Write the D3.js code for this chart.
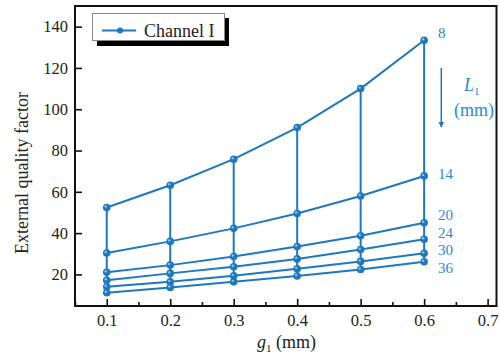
<!DOCTYPE html>
<html lang="en">
<head>
    <meta charset="UTF-8">
    <title>External quality factor vs g1</title>
    <style>
        body { margin: 0; background: #fff; }
        svg text { font-family: "Liberation Serif", "Times New Roman", serif; }
    </style>
    <script src="https://cdn.jsdelivr.net/npm/d3@7"></script>
</head>
<body>
<svg width="500" height="360"></svg>

<script>
    // g1 (mm) values along the x axis
    const gapValues = [0.1, 0.2, 0.3, 0.4, 0.5, 0.6];
    // one curve per L1 (mm)
    const lengthValues = [8, 14, 20, 24, 30, 36];
    const q_L8  = [52.4, 63.2, 75.8, 91.1, 110.0, 133.4];
    const q_L14 = [30.4, 36.0, 42.3, 49.5, 58.0, 67.7];
    const q_L20 = [21.0, 24.5, 28.7, 33.5, 38.7, 45.0];
    const q_L24 = [17.2, 20.5, 23.7, 27.5, 32.1, 37.0];
    const q_L30 = [14.0, 16.4, 19.3, 22.7, 26.3, 30.2];
    const q_L36 = [11.1, 13.7, 16.4, 19.2, 22.4, 26.1];
    const seriesValues = [q_L8, q_L14, q_L20, q_L24, q_L30, q_L36];

    const xTicks = [0.1, 0.2, 0.3, 0.4, 0.5, 0.6, 0.7];
    const xMinorTicks = [0.05, 0.15, 0.25, 0.35, 0.45, 0.55, 0.65];
    const yTicks = [20, 40, 60, 80, 100, 120, 140];

    const lineColor = "#1c79c0";
    const textColor = "#2b8bd0";

    let svg = d3.select("svg");
    const plotLeft = 75, plotRight = 496.5, plotTop = 6, plotBottom = 306;

    let x = d3.scaleLinear().domain([0.05, 0.714]).range([plotLeft, plotRight]);
    let y = d3.scaleLinear().domain([4.7, 150]).range([plotBottom, plotTop]);

    // axes, ticks inward
    svg.append("g").attr("transform", `translate(0,${plotBottom})`)
        .call(d3.axisBottom(x).tickValues(xTicks).tickSize(-7).tickPadding(8)
            .tickFormat(d3.format(".1f")));
    svg.append("g").attr("transform", `translate(0,${plotBottom})`)
        .call(d3.axisBottom(x).tickValues(xMinorTicks).tickSize(-4).tickFormat(""));
    svg.append("g").attr("transform", `translate(${plotLeft},0)`)
        .call(d3.axisLeft(y).tickValues(yTicks).tickSize(-7).tickPadding(7));

    svg.selectAll(".domain").remove();
    svg.selectAll(".tick line").attr("stroke", "#111").attr("stroke-width", 1.6);
    svg.selectAll(".tick text").attr("font-size", 16.5).attr("fill", "#222")
        .attr("font-family", "Liberation Serif, serif");

    // frame
    svg.append("rect").attr("x", plotLeft).attr("y", plotTop)
        .attr("width", plotRight - plotLeft).attr("height", plotBottom - plotTop)
        .attr("fill", "none").attr("stroke", "#111").attr("stroke-width", 2);

    // vertical connectors at each g1
    let plot = svg.append("g");
    plot.selectAll(".vline").data(gapValues).enter().append("line")
        .attr("x1", d => x(d)).attr("x2", d => x(d))
        .attr("y1", (d, i) => y(q_L8[i]))
        .attr("y2", (d, i) => y(q_L36[i]))
        .attr("stroke", lineColor).attr("stroke-width", 2);

    let line = d3.line().x((d, i) => x(gapValues[i])).y(d => y(d));
    plot.selectAll(".curve").data(seriesValues).enter().append("path")
        .attr("d", d => line(d)).attr("fill", "none")
        .attr("stroke", lineColor).attr("stroke-width", 2);

    seriesValues.forEach(function (s) {
        plot.selectAll(null).data(s).enter().append("circle")
            .attr("cx", (d, i) => x(gapValues[i])).attr("cy", d => y(d))
            .attr("r", 3.8).attr("fill", lineColor);
        plot.selectAll(null).data(s).enter().append("circle")
            .attr("cx", (d, i) => x(gapValues[i]) - 1).attr("cy", d => y(d) - 1)
            .attr("r", 1.2).attr("fill", "#8cc4ea");
    });

    // L1 labels at the right end
    const labelY = [32.3, 174, 215, 232.5, 250, 267.5];
    svg.selectAll(".lab").data(lengthValues).enter().append("text")
        .attr("x", 438).attr("y", (d, i) => labelY[i]).attr("dy", "0.35em")
        .attr("font-size", 15).attr("fill", textColor).text(d => d);

    // arrow
    svg.append("defs").append("marker").attr("id", "head")
        .attr("viewBox", "0 0 10 10").attr("refX", 9).attr("refY", 5)
        .attr("markerWidth", 6).attr("markerHeight", 8).attr("orient", "auto")
        .attr("markerUnits", "userSpaceOnUse")
        .append("path").attr("d", "M0,0 L10,5 L0,10 z").attr("fill", lineColor);
    svg.append("line").attr("x1", 441.3).attr("x2", 441.3).attr("y1", 68).attr("y2", 127)
        .attr("stroke", lineColor).attr("stroke-width", 1.5).attr("marker-end", "url(#head)");
    let lt = svg.append("text").attr("x", 464).attr("y", 91).attr("font-size", 18)
        .attr("fill", textColor);
    lt.append("tspan").attr("font-style", "italic").text("L");
    lt.append("tspan").attr("font-size", 11).attr("dy", 4).text("1");
    svg.append("text").attr("x", 474).attr("y", 116).attr("text-anchor", "middle")
        .attr("font-size", 18).attr("fill", textColor).text("(mm)");

    // legend with shadow
    svg.append("rect").attr("x", 97).attr("y", 18).attr("width", 132).attr("height", 28)
        .attr("fill", "#000");
    svg.append("rect").attr("x", 92.5).attr("y", 13.5).attr("width", 132).attr("height", 27)
        .attr("fill", "#fff").attr("stroke", "#888").attr("stroke-width", 1);
    svg.append("line").attr("x1", 102).attr("x2", 136).attr("y1", 30.5).attr("y2", 30.5)
        .attr("stroke", lineColor).attr("stroke-width", 2);
    svg.append("circle").attr("cx", 120).attr("cy", 30.5).attr("r", 3).attr("fill", lineColor);
    svg.append("text").attr("x", 144).attr("y", 36.5).attr("font-size", 18)
        .attr("fill", "#222").text("Channel I");

    // axis titles
    let xt = svg.append("text").attr("x", 257).attr("y", 348).attr("font-size", 18).attr("fill", "#222");
    xt.append("tspan").attr("font-style", "italic").text("g");
    xt.append("tspan").attr("font-size", 11).attr("dy", 4).text("1");
    xt.append("tspan").attr("dy", -4).text(" (mm)");

    svg.append("text").attr("transform", "translate(28,173) rotate(-90)")
        .attr("text-anchor", "middle").attr("font-size", 18).attr("fill", "#222")
        .text("External quality factor");
</script>
</body>
</html>
